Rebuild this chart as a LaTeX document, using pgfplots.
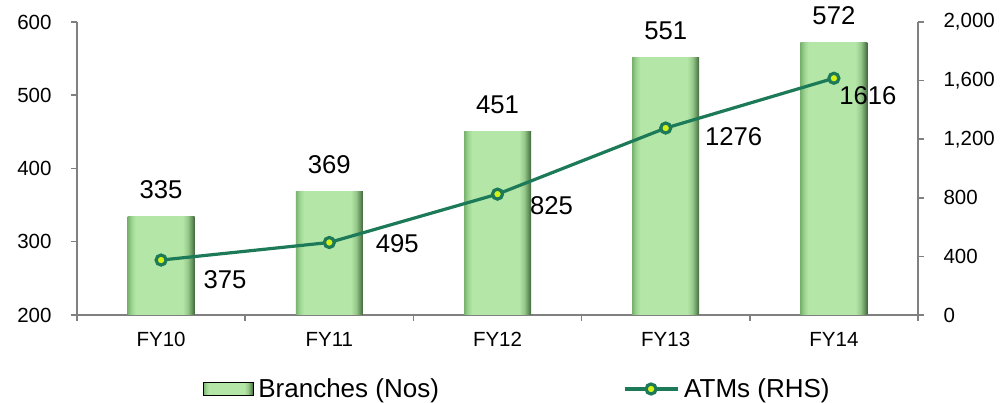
\documentclass[border=0pt]{standalone}
\usepackage{fontspec}
\setmainfont{Liberation Sans}
\usepackage{pgfplots}
\pgfplotsset{compat=1.18}
\usepackage{pgfplotstable}

\definecolor{bs1}{RGB}{120,178,110}
\definecolor{bs2}{RGB}{158,212,146}
\definecolor{bs3}{RGB}{180,231,167}
\definecolor{bs4}{RGB}{150,200,138}
\definecolor{bs5}{RGB}{100,145,92}
\definecolor{bs6}{RGB}{66,100,62}
\definecolor{atm}{RGB}{28,122,88}
\definecolor{atmfill}{RGB}{212,242,20}
\definecolor{axgray}{RGB}{128,128,128}

\pgfdeclarehorizontalshading{barshade}{100bp}{color(0bp)=(bs1); color(25bp)=(bs1); color(28bp)=(bs2); color(31bp)=(bs3); color(66bp)=(bs3); color(70bp)=(bs4); color(73bp)=(bs5); color(75bp)=(bs6); color(100bp)=(bs6)}

\pgfplotstableread{
x y dx dy
0 375 64 -20
1 495 68 -1
2 825 54 -12
3 1276 68 -9
4 1616 34 -17
}\atms

\begin{document}
\begin{tikzpicture}
\useasboundingbox (0pt,0pt) rectangle (1006pt,403pt);
\begin{axis}[
  at={(77pt,88pt)}, anchor=south west,
  scale only axis, width=841pt, height=293pt,
  xmin=-0.5, xmax=4.5, ymin=200, ymax=600,
  axis x line*=bottom, axis y line*=left,
  axis line style={draw=axgray, line width=1.8pt},
  tick align=outside, major tick length=6pt,
  tick style={draw=axgray, line width=1.5pt},
  xtick={-0.5,0.5,1.5,2.5,3.5,4.5},
  x tick label as interval,
  xticklabels={FY10,FY11,FY12,FY13,FY14},
  ytick={200,300,400,500,600},
  ticklabel style={font=\fontsize{20.5}{24}\selectfont, text=black},
  xticklabel style={yshift=-8pt},
  yticklabel style={xshift=-16pt},
  /pgf/number format/assume math mode=true,
  ybar, bar width=67pt, bar shift=0pt,
  nodes near coords,
  every node near coord/.append style={anchor=south, inner sep=0pt, yshift=17.5pt, font=\fontsize{25.7}{30}\selectfont, text=black},
]
\addplot[draw=none, shade, shading=barshade] coordinates {(0,335)};
\addplot[draw=none, shade, shading=barshade] coordinates {(1,369)};
\addplot[draw=none, shade, shading=barshade] coordinates {(2,451)};
\addplot[draw=none, shade, shading=barshade] coordinates {(3,551)};
\addplot[draw=none, shade, shading=barshade] coordinates {(4,572)};
\end{axis}

\begin{axis}[
  at={(77pt,88pt)}, anchor=south west,
  scale only axis, width=841pt, height=293pt,
  xmin=-0.5, xmax=4.5, ymin=0, ymax=2000,
  axis x line=none, axis y line*=right,
  axis line style={draw=axgray, line width=1.8pt},
  tick align=outside, major tick length=6pt,
  tick style={draw=axgray, line width=1.5pt},
  ytick={0,400,800,1200,1600,2000},
  yticklabel style={font=\fontsize{20.5}{24}\selectfont, text=black, xshift=16pt, /pgf/number format/1000 sep={,}},
  /pgf/number format/assume math mode=true,
  legend columns=2,
  legend style={draw=none, fill=none, at={(0.1498,-0.2526)}, anchor=west, inner sep=0pt, outer sep=0pt,
    font=\fontsize{26}{30}\selectfont, nodes={inner sep=0pt},
    /tikz/every odd column/.append style={column sep=5pt},
    /tikz/every even column/.append style={column sep=184pt}},
  legend cell align=left,
]
\addlegendimage{legend image code/.code={\fill[shade, shading=barshade] (0pt,-6.5pt) rectangle (50pt,6.5pt);}}
\addlegendentry{Branches (Nos)}
\addplot[color=atm, line width=3.2pt, mark=*, mark size=5pt,
  mark options={fill=atmfill, draw=atm, line width=3.2pt},
  legend image code/.code={\draw[mark repeat=2, mark phase=2] plot coordinates {(0pt,0pt) (26.5pt,0pt) (53pt,0pt)};}
] table[x=x, y=y] {\atms};
\addlegendentry{ATMs (RHS)}
\addplot[forget plot, draw=none, only marks, mark=*, mark size=0pt, mark options={draw=none, fill=none},
  visualization depends on={\thisrow{dx}\as\dx},
  visualization depends on={\thisrow{dy}\as\dy},
  nodes near coords={\pgfmathprintnumber[1000 sep={}]{\pgfplotspointmeta}},
  every node near coord/.append style={anchor=center, inner sep=0pt, xshift=\dx pt, yshift=\dy pt, font=\fontsize{25.7}{30}\selectfont, text=black},
] table[x=x, y=y] {\atms};
\end{axis}
\end{tikzpicture}
\end{document}
